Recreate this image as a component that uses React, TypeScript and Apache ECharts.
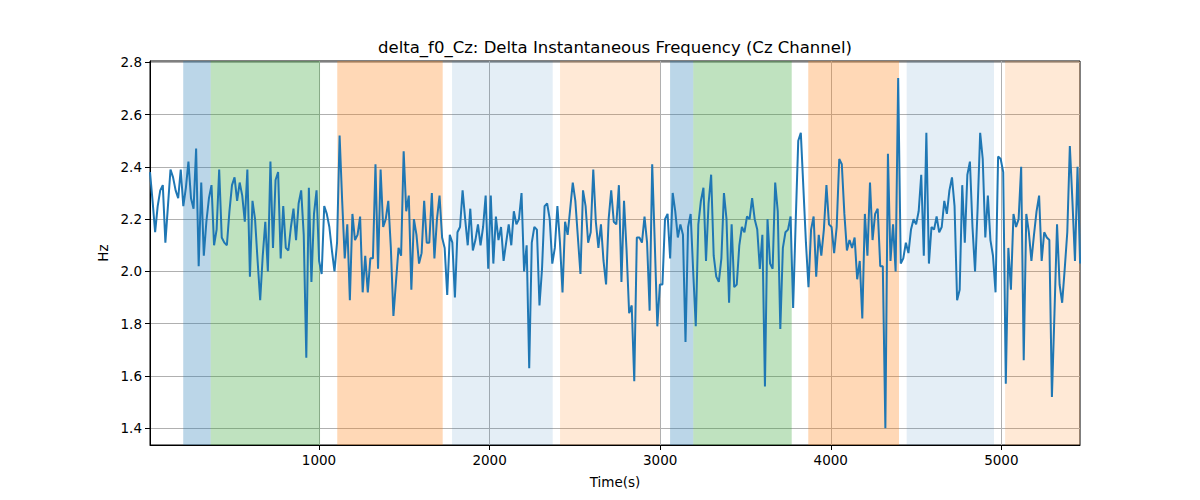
import * as echarts from "echarts";
import { useEffect, useRef } from "react";

const title = "delta_f0_Cz: Delta Instantaneous Frequency (Cz Channel)";

// sample times: first sample and spacing (s)
const timeStart = 9.3;
const timeStep = 15.02;
const timeEnd = 5461;

// delta f0 values (Hz) left to right
const values = [
  2.38, 2.27, 2.15, 2.25, 2.31, 2.33, 2.11, 2.25, 2.39, 2.36, 2.31, 2.28,
  2.39, 2.25, 2.32, 2.42, 2.28, 2.24, 2.47, 2.02, 2.34, 2.06,
  2.19, 2.28, 2.33, 2.10, 2.16, 2.39, 2.13, 2.11, 2.10, 2.23,
  2.33, 2.36, 2.27, 2.34, 2.29, 2.19, 2.39, 1.98, 2.27, 2.20,
  2.04,
  1.89, 2.06, 2.19, 2.00, 2.42, 2.09, 2.35, 2.38, 2.05, 2.25,
  2.09, 2.08, 2.17, 2.24, 2.12, 2.26, 2.31, 2.14, 1.67, 2.32,
  1.96, 2.22, 2.31, 2.04, 1.99, 2.25, 2.22, 2.17, 2.08, 2.00,
  2.11, 2.52, 2.27, 2.05, 2.18, 1.89, 2.22, 2.12, 2.14, 2.21,
  1.92, 2.06, 1.92, 2.05, 2.05, 2.41, 2.01, 2.39,
  2.17, 2.20, 2.27, 2.09, 1.83, 1.96, 2.09, 2.06, 2.46, 2.23,
  2.29, 1.93, 2.20, 2.14, 2.03, 2.07, 2.27, 2.11, 2.11, 2.30,
  2.05, 2.20, 2.29, 2.13, 2.09, 1.91, 2.14, 2.11, 1.90, 2.15,
  2.17, 2.31, 2.20, 2.10, 2.24, 2.08, 2.12, 2.18, 2.10, 2.17,
  2.29, 2.01, 2.29, 2.03, 2.21, 2.12, 2.17,
  2.04, 2.11, 2.18, 2.10, 2.23, 2.18, 2.20, 2.30, 2.00, 2.10,
  1.63, 2.11, 2.17, 2.16, 1.87, 2.01, 2.25, 2.26, 2.20, 2.03,
  2.09, 2.25, 2.11, 1.92, 2.19, 2.14, 2.24, 2.34, 2.27, 2.13,
  1.99, 2.31, 2.25, 2.11, 2.15, 2.39, 2.19, 2.09, 2.18, 2.04,
  1.95, 2.20, 2.31, 2.19, 2.18, 2.33, 1.96,
  2.27, 2.08, 1.84, 1.87, 1.58, 2.13, 2.13, 2.11, 2.21, 2.11,
  1.85, 2.41, 2.11, 1.79, 1.95, 1.95, 2.20, 2.22, 2.05, 2.30,
  2.23, 2.13, 2.18, 2.14, 1.73, 2.17, 2.22, 2.00, 1.79, 2.18,
  2.27, 2.32, 2.04, 2.26, 2.37, 2.06, 1.98, 1.96, 2.05, 2.30,
  2.20, 1.88, 2.18, 1.94, 1.95, 2.10,
  2.17, 2.15, 2.21, 2.20, 2.28, 2.20, 2.16, 2.01, 2.14, 1.56,
  2.20, 2.03, 2.01, 2.34, 2.23, 1.78, 2.09, 2.15, 2.16, 2.21,
  1.86, 2.19, 2.50, 2.53, 2.32, 2.11, 1.94, 2.16, 2.21, 1.98,
  2.14, 2.06, 2.16, 2.33, 2.18, 2.17, 2.07, 2.17, 2.43, 2.41,
  2.22, 2.08, 2.12, 2.09, 2.13, 1.97, 2.04,
  1.82, 2.22, 2.06, 2.34, 2.12, 2.22, 2.24, 2.02, 2.02, 1.40,
  2.45, 2.04, 2.18, 2.00, 2.74, 2.03, 2.05, 2.11, 2.07, 2.16,
  2.20, 2.18, 2.23, 2.37, 2.06, 2.53, 2.03, 2.17, 2.16, 2.21,
  2.15, 2.17, 2.27, 2.22, 2.31, 2.36, 2.25, 1.89, 1.93,
  2.33, 2.11, 2.37, 2.42, 2.17, 2.00, 2.24, 2.53, 2.43, 2.13,
  2.29, 2.12, 2.06, 1.92, 2.44, 2.43, 2.38, 1.57, 2.09, 1.93,
  2.22, 2.17, 2.20, 2.40, 1.66, 2.22, 2.15, 2.04, 2.14, 2.23,
  2.29, 2.04, 2.15, 2.13, 2.12, 1.52, 1.84, 2.18, 1.95, 1.88,
  2.01, 2.15, 2.48, 2.27, 2.04, 2.40, 2.03
];

// shaded segments: [start, end] in seconds and their fill
const spanStarts = [204, 365, 1107, 1780, 2413, 3058, 3194, 3868, 4445, 5022];
const spanEnds = [365, 1006, 1725, 2370, 2999, 3194, 3771, 4400, 4957, 5461];
const spanColors = [
  "rgba(31,119,180,0.3)",
  "rgba(44,160,44,0.3)",
  "rgba(255,127,14,0.3)",
  "rgba(31,119,180,0.12)",
  "rgba(255,127,14,0.17)",
  "rgba(31,119,180,0.3)",
  "rgba(44,160,44,0.3)",
  "rgba(255,127,14,0.3)",
  "rgba(31,119,180,0.12)",
  "rgba(255,127,14,0.17)"
];

const xTicks = [1000, 2000, 3000, 4000, 5000];
const yTicks = [1.4, 1.6, 1.8, 2.0, 2.2, 2.4, 2.6, 2.8];

const font = "DejaVu Sans";

function buildOption(): echarts.EChartsCoreOption {
  const points = values.map((v, i) => [timeStart + i * timeStep, v]);
  const areas = spanStarts.map((start, i) => [
    { xAxis: start, itemStyle: { color: spanColors[i] } },
    { xAxis: spanEnds[i] }
  ]);

  return {
    animation: false,
    title: {
      text: title,
      left: 610,
      top: 34,
      textAlign: "center",
      textStyle: { fontFamily: font, fontSize: 16.5, fontWeight: "normal", color: "#000" }
    },
    grid: {
      left: 150,
      right: 120,
      top: 61,
      bottom: 55,
      show: true,
      borderColor: "#000",
      borderWidth: 1,
      backgroundColor: "transparent"
    },
    xAxis: {
      type: "value",
      min: timeStart,
      max: timeEnd,
      name: "Time(s)",
      nameLocation: "middle",
      nameGap: 30,
      nameTextStyle: { fontFamily: font, fontSize: 13.5, color: "#000" },
      axisLine: { show: true, onZero: false, lineStyle: { color: "#000", width: 1 } },
      axisTick: { show: true, length: 5, customValues: xTicks, lineStyle: { color: "#000" } },
      axisLabel: {
        customValues: xTicks,
        formatter: (v: number) => String(v),
        fontFamily: font,
        fontSize: 13.5,
        color: "#000",
        margin: 8
      },
      splitLine: { show: true, lineStyle: { color: "#b0b0b0", width: 1 } }
    },
    yAxis: {
      type: "value",
      min: 1.336,
      max: 2.805,
      name: "Hz",
      nameLocation: "middle",
      nameGap: 38,
      nameTextStyle: { fontFamily: font, fontSize: 13.5, color: "#000" },
      axisLine: { show: true, onZero: false, lineStyle: { color: "#000", width: 1 } },
      axisTick: { show: true, length: 5, customValues: yTicks, lineStyle: { color: "#000" } },
      axisLabel: {
        customValues: yTicks,
        formatter: (v: number) => v.toFixed(1),
        fontFamily: font,
        fontSize: 13.5,
        color: "#000",
        margin: 8
      },
      splitLine: { show: true, lineStyle: { color: "#b0b0b0", width: 1 } }
    },
    series: [
      {
        type: "line",
        data: points,
        showSymbol: false,
        symbol: "none",
        lineStyle: { color: "#1f77b4", width: 2 },
        itemStyle: { color: "#1f77b4" },
        z: 3,
        markArea: {
          silent: true,
          data: areas
        }
      }
    ]
  };
}

export default function App() {
  const ref = useRef<HTMLDivElement | null>(null);

  useEffect(() => {
    if (!ref.current) {
      return;
    }
    const chart = echarts.init(ref.current, undefined, { renderer: "svg" });
    chart.setOption(buildOption());
    return () => {
      chart.dispose();
    };
  }, []);

  return (
    <div
      ref={ref}
      style={{ position: "fixed", left: 0, top: 0, width: 1200, height: 500, background: "#fff" }}
    />
  );
}
